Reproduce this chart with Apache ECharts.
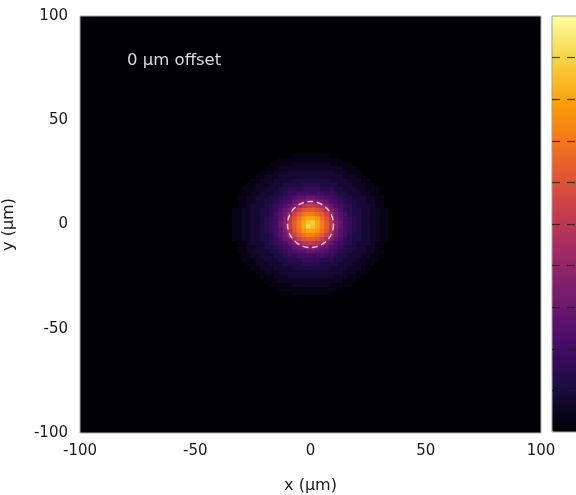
<!DOCTYPE html>
<html>
<head>
<meta charset="utf-8">
<script src="https://cdn.jsdelivr.net/npm/echarts@6/dist/echarts.min.js"></script>
<style>
html,body{margin:0;padding:0;background:#fff;}
#chart{width:576px;height:495px;}
</style>
</head>
<body>
<div id="chart"></div>
<script>
// ---- data ----
const axisMin = -100, axisMax = 100, tickStep = 50;
const cellSize = 2;            // µm per pixel cell
const firstCellX = -35;        // centre of the left-most stored cell (µm)
const firstCellY = 35;         // centre of the top-most stored cell (µm)
const levelMax = 35;           // colour-scale maximum (levels are base-36 digits)
const colorTicks = [3.5, 7, 10.5, 14, 17.5, 21, 24.5, 28, 31.5];
// intensity levels, one string per row, top to bottom
const levelRows = [
  "000000000000000000" + "000000000000000000",
  "000000000000001111" + "111100000000000000",
  "000000000001111111" + "111111100000000000",
  "000000000111112222" + "222211111000000000",
  "000000001112222222" + "222222211100000000",
  "000000011122233333" + "333332221110000000",
  "000000112223333333" + "333333322211000000",
  "000001122233334444" + "444433332221100000",
  "000011222333444455" + "554444333222110000",
  "000111223334455566" + "665554433322111000",
  "000112233344566777" + "777665443332211000",
  "00112233344567899a" + "a99876544333221100",
  "00112233445678abcd" + "dcba87654433221100",
  "0011233345678acfhi" + "ihfca8765433321100",
  "011223344568acgjlm" + "mljgca865443322110",
  "011223344579bfjmop" + "pomjfb975443322110",
  "011223345679chlors" + "srolhc976543322110",
  "01122334567adimpsu" + "vspmida76543322110",
  "01122334567adimpsw" + "uspmida76543322110",
  "011223345679chlors" + "srolhc976543322110",
  "011223344579bfjmop" + "pomjfb975443322110",
  "011223344568acgjlm" + "mljgca865443322110",
  "0011233345678acfhi" + "ihfca8765433321100",
  "00112233445678abcd" + "dcba87654433221100",
  "00112233344567899a" + "a99876544333221100",
  "000112233344566777" + "777665443332211000",
  "000111223334455566" + "665554433322111000",
  "000011222333444455" + "554444333222110000",
  "000001122233334444" + "444433332221100000",
  "000000112223333333" + "333333322211000000",
  "000000011122233333" + "333332221110000000",
  "000000001112222222" + "222222211100000000",
  "000000000111112222" + "222211111000000000",
  "000000000001111111" + "111111100000000000",
  "000000000000001111" + "111100000000000000",
  "000000000000000000" + "000000000000000000"
];
const circleCentre = [[0, 0]];
const offsetLabel = "0 µm offset";
const xName = "x (µm)";
const yName = "y (µm)";
const inferno = ["#000004","#1b0c42","#4b0c6b","#781c6d","#a52c60","#cf4446","#ed6925","#fb9a06","#f7d03c","#fcffa4"];

// ---- build heatmap cells ----
const cells = [];
levelRows.forEach(function (row, r) {
  for (let c = 0; c < row.length; c++) {
    cells.push([firstCellX + c * cellSize, firstCellY - r * cellSize, parseInt(row[c], 36)]);
  }
});

const font = "DejaVu Sans";
const tickStyle = {color: "rgba(30,30,30,0.8)", width: 1.2};
const chart = echarts.init(document.getElementById("chart"), null, {renderer: "canvas"});
chart.setOption({
  animation: false,
  backgroundColor: "#ffffff",
  grid: [
    {left: 80, top: 16, width: 461, height: 417, show: true, backgroundColor: "#000004",
     borderColor: "#b0b0b0", borderWidth: 1, containLabel: false, outerBoundsMode: "none"},
    {left: 552, top: 16, width: 32, height: 416, show: true, backgroundColor: "transparent",
     borderColor: "#a0a0a0", borderWidth: 1, z: 10, containLabel: false, outerBoundsMode: "none"}
  ],
  xAxis: [
    {type: "value", gridIndex: 0, min: axisMin, max: axisMax, interval: tickStep,
     axisLine: {show: false}, axisTick: {show: false}, splitLine: {show: false},
     axisLabel: {fontFamily: font, fontSize: 15, color: "#1a1a1a", margin: 11},
     name: xName, nameLocation: "middle", nameGap: 45,
     nameTextStyle: {fontFamily: font, fontSize: 16, color: "#1a1a1a"}},
    {type: "value", gridIndex: 1, min: 0, max: 1, show: false}
  ],
  yAxis: [
    {type: "value", gridIndex: 0, min: axisMin, max: axisMax, interval: tickStep,
     axisLine: {show: false}, axisTick: {show: false}, splitLine: {show: false},
     axisLabel: {fontFamily: font, fontSize: 15, color: "#1a1a1a", margin: 12},
     name: yName, nameLocation: "middle", nameGap: 63,
     nameTextStyle: {fontFamily: font, fontSize: 16, color: "#1a1a1a"}},
    {type: "value", gridIndex: 1, position: "left", min: 0, max: levelMax, z: 10,
     axisLine: {show: false}, axisLabel: {show: false}, splitLine: {show: false},
     axisTick: {show: true, inside: true, length: 8, customValues: colorTicks, lineStyle: tickStyle}},
    {type: "value", gridIndex: 1, position: "right", offset: -9, min: 0, max: levelMax, z: 10,
     axisLine: {show: false}, axisLabel: {show: false}, splitLine: {show: false},
     axisTick: {show: true, inside: true, length: 8, customValues: colorTicks, lineStyle: tickStyle}}
  ],
  visualMap: {
    type: "continuous", min: 0, max: levelMax, dimension: 2, seriesIndex: 0,
    inRange: {color: inferno},
    left: 552, top: 16, itemWidth: 32, itemHeight: 416, padding: 0,
    calculable: false, hoverLink: false, text: null, z: 1,
    textStyle: {color: "transparent"}
  },
  graphic: [
    {type: "text", left: 127, top: 52, z: 20, silent: true,
     style: {text: offsetLabel, fill: "#dcdcdc", font: "16.5px 'DejaVu Sans'"}}
  ],
  series: [
    {
      type: "custom", xAxisIndex: 0, yAxisIndex: 0, data: cells, silent: true,
      encode: {x: 0, y: 1},
      clip: true,
      renderItem: function (params, api) {
        const half = cellSize / 2;
        const p = api.coord([api.value(0) - half, api.value(1) + half]);
        const s = api.size([cellSize, cellSize]);
        return {type: "rect",
          shape: {x: p[0], y: p[1], width: s[0] + 0.6, height: s[1] + 0.6},
          style: {fill: api.visual("color")}};
      }
    },
    {
      type: "scatter", xAxisIndex: 0, yAxisIndex: 0, data: circleCentre, silent: true,
      symbol: "circle", symbolSize: 46, z: 5,
      itemStyle: {color: "rgba(0,0,0,0)", borderColor: "rgba(255,255,255,0.9)",
        borderWidth: 1.5, borderType: [6, 3.5]}
    }
  ]
});
</script>
</body>
</html>
